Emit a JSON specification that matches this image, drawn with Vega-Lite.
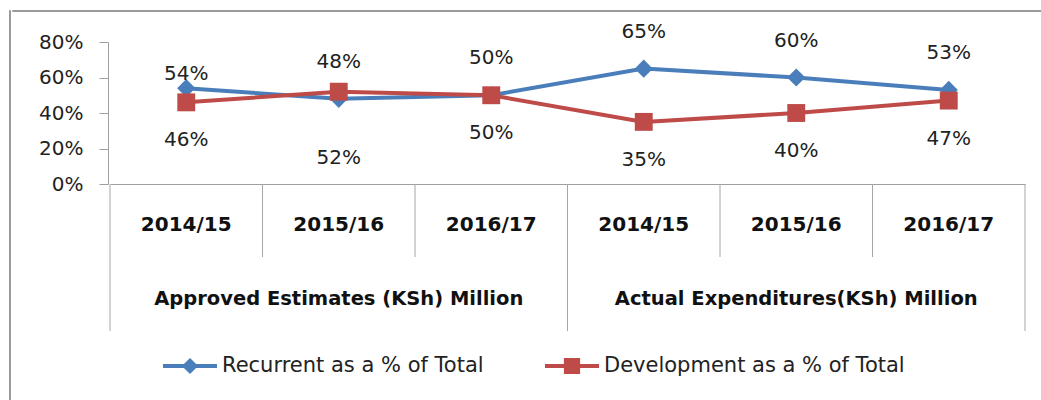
{
  "$schema": "https://vega.github.io/schema/vega-lite/v6.json",
  "padding": {"left": 8, "top": 9, "right": 0, "bottom": 0},
  "background": "white",
  "config": {
    "view": {"stroke": null},
    "font": "DejaVu Sans",
    "text": {"font": "DejaVu Sans"}
  },
  "datasets": {
    "shares": [
      {"group": "Approved Estimates (KSh) Million", "year": "2014/15", "key": "Approved 2014/15", "series": "Recurrent as a % of Total", "value": 0.54},
      {"group": "Approved Estimates (KSh) Million", "year": "2015/16", "key": "Approved 2015/16", "series": "Recurrent as a % of Total", "value": 0.48},
      {"group": "Approved Estimates (KSh) Million", "year": "2016/17", "key": "Approved 2016/17", "series": "Recurrent as a % of Total", "value": 0.50},
      {"group": "Actual Expenditures(KSh) Million", "year": "2014/15", "key": "Actual 2014/15", "series": "Recurrent as a % of Total", "value": 0.65},
      {"group": "Actual Expenditures(KSh) Million", "year": "2015/16", "key": "Actual 2015/16", "series": "Recurrent as a % of Total", "value": 0.60},
      {"group": "Actual Expenditures(KSh) Million", "year": "2016/17", "key": "Actual 2016/17", "series": "Recurrent as a % of Total", "value": 0.53},
      {"group": "Approved Estimates (KSh) Million", "year": "2014/15", "key": "Approved 2014/15", "series": "Development as a % of Total", "value": 0.46},
      {"group": "Approved Estimates (KSh) Million", "year": "2015/16", "key": "Approved 2015/16", "series": "Development as a % of Total", "value": 0.52},
      {"group": "Approved Estimates (KSh) Million", "year": "2016/17", "key": "Approved 2016/17", "series": "Development as a % of Total", "value": 0.50},
      {"group": "Actual Expenditures(KSh) Million", "year": "2014/15", "key": "Actual 2014/15", "series": "Development as a % of Total", "value": 0.35},
      {"group": "Actual Expenditures(KSh) Million", "year": "2015/16", "key": "Actual 2015/16", "series": "Development as a % of Total", "value": 0.40},
      {"group": "Actual Expenditures(KSh) Million", "year": "2016/17", "key": "Actual 2016/17", "series": "Development as a % of Total", "value": 0.47}
    ]
  },
  "spacing": 0,
  "hconcat": [
    {
      "width": 1,
      "height": 390,
      "view": {"stroke": "#9a9a9a", "strokeWidth": 1},
      "data": {"values": [{}]},
      "mark": {"type": "rule", "opacity": 0},
      "encoding": {}
    },
    {
      "spacing": 9,
      "vconcat": [
        {
          "width": 1032,
          "height": 1,
          "view": {"stroke": "#9a9a9a", "strokeWidth": 1},
          "data": {"values": [{}]},
          "mark": {"type": "rule", "opacity": 0},
          "encoding": {}
        },
        {
          "spacing": 0,
          "hconcat": [
            {
              "width": 96,
              "height": 142,
              "data": {"name": "shares"},
              "mark": {"type": "point", "opacity": 0},
              "encoding": {
                "y": {
                  "field": "value", "type": "quantitative",
                  "scale": {"domain": [0, 0.8]},
                  "axis": {"orient": "left", "offset": -96, "values": [0, 0.2, 0.4, 0.6, 0.8], "format": ".0%", "title": null, "grid": false, "domainColor": "#a0a0a0", "tickColor": "#a0a0a0", "tickSize": 9, "labelPadding": 16, "labelFontSize": 20, "labelFont": "DejaVu Sans", "labelColor": "#222222"}
                }
              }
            },
            {
              "spacing": 0,
              "bounds": "flush",
              "vconcat": [
                {
                  "width": 915,
                  "height": 142,
                  "data": {"name": "shares"},
                  "encoding": {
                    "x": {
                      "field": "key", "type": "nominal",
                      "scale": {"domain": ["Approved 2014/15", "Approved 2015/16", "Approved 2016/17", "Actual 2014/15", "Actual 2015/16", "Actual 2016/17"], "paddingInner": 0, "paddingOuter": 0},
                      "axis": {"labels": false, "ticks": false, "title": null, "grid": false, "domainColor": "#a0a0a0", "domainWidth": 1}
                    },
                    "y": {
                      "field": "value", "type": "quantitative",
                      "scale": {"domain": [0, 0.8]},
                      "axis": null
                    },
                    "color": {
                      "field": "series", "type": "nominal",
                      "scale": {"domain": ["Recurrent as a % of Total", "Development as a % of Total"], "range": ["#4a7ebb", "#be4b48"]},
                      "legend": {
                        "orient": "none", "legendX": 154, "legendY": 329, "direction": "horizontal", "title": null,
                        "labelFontSize": 21, "labelFont": "DejaVu Sans", "labelColor": "#222222", "labelOffset": 5, "labelLimit": 400,
                        "columnPadding": 61, "symbolSize": 2916, "padding": 0,
                        "symbolType": "M-1,-0.074H1V0.074H-1Z",
                        "encode": {
                          "symbols": {
                            "update": {
                              "shape": {"signal": "datum.value === 'Recurrent as a % of Total' ? 'M-1,-0.074H1V0.074H-1Z M0,-0.3L0.3,0L0,0.3L-0.3,0Z' : 'M-1,-0.074H1V0.074H-1Z M-0.3,-0.3H0.3V0.3H-0.3Z'"},
                              "fill": {"signal": "datum.value === 'Recurrent as a % of Total' ? '#4a7ebb' : '#be4b48'"},
                              "fillOpacity": {"value": 1},
                              "opacity": {"value": 1},
                              "strokeWidth": {"value": 0}
                            }
                          }
                        }
                      }
                    }
                  },
                  "layer": [
                    {"mark": {"type": "line", "strokeWidth": 4}},
                    {
                      "transform": [{"filter": "datum.series === 'Recurrent as a % of Total'"}],
                      "mark": {"type": "point", "filled": true, "opacity": 1, "size": 330, "shape": "diamond"}
                    },
                    {
                      "transform": [{"filter": "datum.series === 'Development as a % of Total'"}],
                      "mark": {"type": "point", "filled": true, "opacity": 1, "size": 320, "shape": "square"}
                    },
                    {
                      "transform": [{"filter": "datum.series === 'Recurrent as a % of Total' && datum.key !== 'Approved 2014/15'"}],
                      "mark": {"type": "text", "fontSize": 20, "dy": -37, "baseline": "middle"},
                      "encoding": {"text": {"field": "value", "type": "quantitative", "format": ".0%"}, "color": {"value": "#222222"}}
                    },
                    {
                      "transform": [{"filter": "datum.series === 'Recurrent as a % of Total' && datum.key === 'Approved 2014/15'"}],
                      "mark": {"type": "text", "fontSize": 20, "dy": -14, "baseline": "middle"},
                      "encoding": {"text": {"field": "value", "type": "quantitative", "format": ".0%"}, "color": {"value": "#222222"}}
                    },
                    {
                      "transform": [{"filter": "datum.series === 'Development as a % of Total' && datum.key !== 'Approved 2015/16'"}],
                      "mark": {"type": "text", "fontSize": 20, "dy": 38, "baseline": "middle"},
                      "encoding": {"text": {"field": "value", "type": "quantitative", "format": ".0%"}, "color": {"value": "#222222"}}
                    },
                    {
                      "transform": [{"filter": "datum.series === 'Development as a % of Total' && datum.key === 'Approved 2015/16'"}],
                      "mark": {"type": "text", "fontSize": 20, "dy": 66, "baseline": "middle"},
                      "encoding": {"text": {"field": "value", "type": "quantitative", "format": ".0%"}, "color": {"value": "#222222"}}
                    }
                  ]
                },
                {
                  "width": 915,
                  "height": 73,
                  "data": {"name": "shares"},
                  "transform": [{"filter": "datum.series === 'Recurrent as a % of Total'"}],
                  "encoding": {
                    "x": {
                      "field": "key", "type": "nominal",
                      "scale": {"domain": ["Approved 2014/15", "Approved 2015/16", "Approved 2016/17", "Actual 2014/15", "Actual 2015/16", "Actual 2016/17"], "paddingInner": 0, "paddingOuter": 0},
                      "axis": null
                    }
                  },
                  "layer": [
                    {
                      "mark": {"type": "text", "fontSize": 20, "fontWeight": "bold", "color": "#111111", "dy": 4, "baseline": "middle"},
                      "encoding": {"text": {"field": "year", "type": "nominal"}}
                    },
                    {
                      "mark": {"type": "rule", "color": "#a6a6a6", "strokeWidth": 1},
                      "encoding": {"x": {"field": "key", "type": "nominal", "bandPosition": 0}}
                    },
                    {
                      "transform": [{"filter": "datum.key === 'Actual 2016/17'"}],
                      "mark": {"type": "rule", "color": "#a6a6a6", "strokeWidth": 1},
                      "encoding": {"x": {"field": "key", "type": "nominal", "bandPosition": 1}}
                    }
                  ]
                },
                {
                  "width": 915,
                  "height": 74,
                  "data": {"name": "shares"},
                  "transform": [{"filter": "datum.series === 'Recurrent as a % of Total'"}],
                  "encoding": {
                    "x": {
                      "field": "key", "type": "nominal",
                      "scale": {"domain": ["Approved 2014/15", "Approved 2015/16", "Approved 2016/17", "Actual 2014/15", "Actual 2015/16", "Actual 2016/17"], "paddingInner": 0, "paddingOuter": 0},
                      "axis": null
                    }
                  },
                  "layer": [
                    {
                      "transform": [{"filter": "datum.year === '2015/16'"}],
                      "mark": {"type": "text", "fontSize": 19.5, "fontWeight": "bold", "color": "#111111", "dy": 5, "baseline": "middle"},
                      "encoding": {"text": {"field": "group", "type": "nominal"}}
                    },
                    {
                      "transform": [{"filter": "datum.year === '2014/15'"}],
                      "mark": {"type": "rule", "color": "#a6a6a6", "strokeWidth": 1},
                      "encoding": {"x": {"field": "key", "type": "nominal", "bandPosition": 0}}
                    },
                    {
                      "transform": [{"filter": "datum.key === 'Actual 2016/17'"}],
                      "mark": {"type": "rule", "color": "#a6a6a6", "strokeWidth": 1},
                      "encoding": {"x": {"field": "key", "type": "nominal", "bandPosition": 1}}
                    }
                  ]
                }
              ]
            }
          ]
        }
      ]
    }
  ]
}
